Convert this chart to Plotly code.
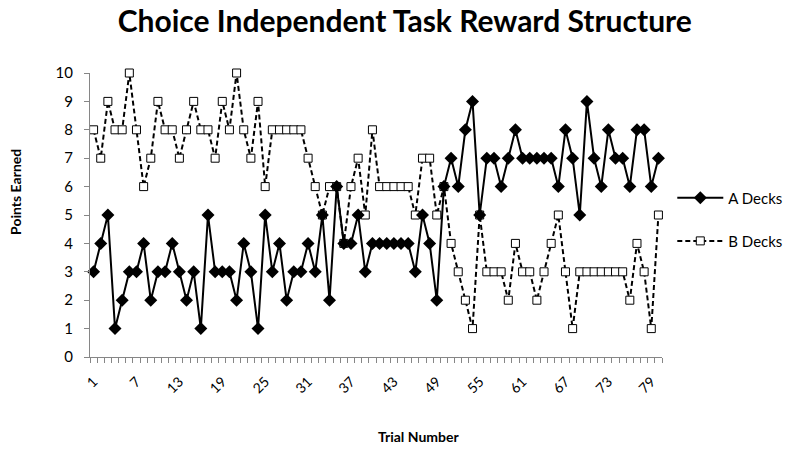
import plotly.graph_objects as go

trials = list(range(1, 81))
a_decks = [3, 4, 5, 1, 2, 3, 3, 4, 2, 3,
           3, 4, 3, 2, 3, 1, 5, 3, 3, 3,
           2, 4, 3, 1, 5, 3, 4, 2, 3, 3,
           4, 3, 5, 2, 6, 4, 4, 5, 3, 4,
           4, 4, 4, 4, 4, 3, 5, 4, 2, 6,
           7, 6, 8, 9, 5, 7, 7, 6, 7, 8,
           7, 7, 7, 7, 7, 6, 8, 7, 5, 9,
           7, 6, 8, 7, 7, 6, 8, 8, 6, 7]
b_decks = [8, 7, 9, 8, 8, 10, 8, 6, 7, 9,
           8, 8, 7, 8, 9, 8, 8, 7, 9, 8,
           10, 8, 7, 9, 6, 8, 8, 8, 8, 8,
           7, 6, 5, 6, 6, 4, 6, 7, 5, 8,
           6, 6, 6, 6, 6, 5, 7, 7, 5, 6,
           4, 3, 2, 1, 5, 3, 3, 3, 2, 4,
           3, 3, 2, 3, 4, 5, 3, 1, 3, 3,
           3, 3, 3, 3, 3, 2, 4, 3, 1, 5]
x_tick_vals = list(range(1, 81, 6))
x_tick_text = [str(v) for v in x_tick_vals]
y_tick_vals = list(range(0, 11))

FONT = "Lato"
AXIS_COLOR = "#868686"

fig = go.Figure()
fig.add_trace(go.Scatter(
    x=trials, y=b_decks, name="B Decks", mode="lines+markers",
    line=dict(color="black", width=2, dash="5px,3px"),
    marker=dict(symbol="square", size=8, color="white",
                line=dict(color="black", width=1)),
    legend="legend2", cliponaxis=False,
))
fig.add_trace(go.Scatter(
    x=trials, y=a_decks, name="A Decks", mode="lines+markers",
    line=dict(color="black", width=2),
    marker=dict(symbol="diamond", size=10, color="black"),
    legend="legend", cliponaxis=False,
))

fig.update_layout(
    width=800, height=451,
    margin=dict(l=90, r=135, t=73, b=94),
    paper_bgcolor="white", plot_bgcolor="white",
    font=dict(family=FONT, color="black"),
    title=dict(text="<b>Choice Independent Task Reward Structure</b>",
               x=0.506, xanchor="center", y=0.952, yanchor="middle",
               font=dict(size=30, family=FONT, color="black")),
    showlegend=True,
    legend=dict(x=1.018, y=0.56, xanchor="left", yanchor="middle", itemwidth=46,
                font=dict(size=15, family=FONT), bgcolor="rgba(0,0,0,0)"),
    legend2=dict(x=1.018, y=0.408, xanchor="left", yanchor="middle", itemwidth=46,
                 font=dict(size=15, family=FONT), bgcolor="rgba(0,0,0,0)"),
    xaxis=dict(
        range=[0.5, 80.5], tickmode="array", tickvals=x_tick_vals,
        ticktext=x_tick_text, tickangle=-45, ticks="",
        tickfont=dict(size=14, family=FONT), ticklabelstandoff=10,
        showline=True, linecolor=AXIS_COLOR, linewidth=1,
        showgrid=False, zeroline=False,
        minor=dict(tickmode="array", tickvals=[i + 0.5 for i in range(0, 81)],
                   ticks="outside", ticklen=5, tickcolor=AXIS_COLOR,
                   showgrid=False),
    ),
    yaxis=dict(
        range=[0, 10], tickmode="array", tickvals=y_tick_vals,
        ticks="outside", ticklen=5, tickcolor=AXIS_COLOR,
        tickfont=dict(size=15, family=FONT), ticklabelstandoff=8,
        showline=True, linecolor=AXIS_COLOR, linewidth=1,
        showgrid=False, zeroline=False,
    ),
    annotations=[
        dict(text="<b>Points Earned</b>", xref="paper", yref="paper",
             x=-0.13, y=0.58, xanchor="center", yanchor="middle",
             textangle=-90, showarrow=False, font=dict(size=14, family=FONT)),
        dict(text="<b>Trial Number</b>", xref="paper", yref="paper",
             x=0.574, y=-0.28, xanchor="center", yanchor="middle",
             showarrow=False, font=dict(size=14, family=FONT)),
    ],
)

fig.write_html("out.html",
               config={"displayModeBar": False},
               post_script="document.body.style.margin='0';")
